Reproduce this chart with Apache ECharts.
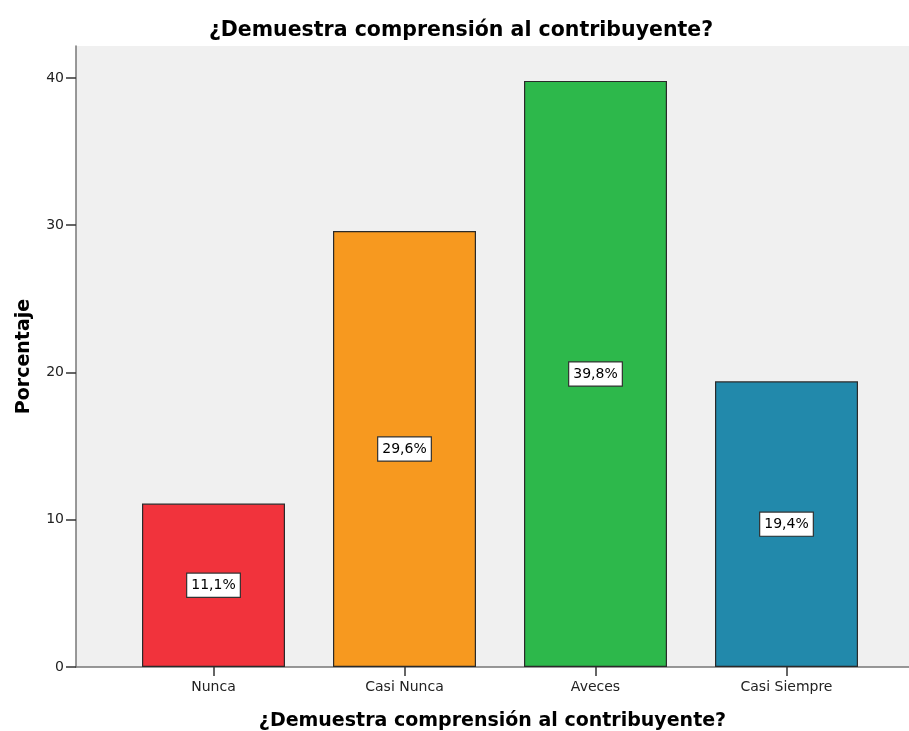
<!DOCTYPE html>
<html>
<head>
<meta charset="utf-8">
<script src="https://cdn.jsdelivr.net/npm/echarts@6/dist/echarts.min.js"></script>
<style>html,body{margin:0;padding:0;background:#fff;}#c{width:909px;height:731px;}</style>
</head>
<body>
<div id="c"></div>
<script>
var titleText = '¿Demuestra comprensión al contribuyente?';
var categories = ['Nunca', 'Casi Nunca', 'Aveces', 'Casi Siempre'];
var values = [11.1, 29.6, 39.8, 19.4];
var labels = ['11,1%', '29,6%', '39,8%', '19,4%'];
var barColors = ['#f1333c', '#f7991f', '#2db84b', '#2289ab'];
var yTicks = [0, 10, 20, 30, 40];

var chart = echarts.init(document.getElementById('c'));
var font = 'DejaVu Sans, Liberation Sans, sans-serif';
chart.setOption({
  animation: false,
  backgroundColor: '#ffffff',
  title: {
    text: titleText, left: 456, top: 15, textAlign: 'center',
    textStyle: { fontFamily: font, fontSize: 20.5, fontWeight: 'bold', color: '#000' }
  },
  grid: [
    { left: 76, right: 0, top: 46, bottom: 64, show: true, backgroundColor: '#f0f0f0', borderWidth: 0,
      containLabel: false, outerBoundsMode: 'none' },
    { left: 118, width: 764, top: 46, bottom: 64, containLabel: false, outerBoundsMode: 'none' }
  ],
  xAxis: [
    { type: 'value', gridIndex: 0, min: 0, max: 1, axisLine: { show: true, lineStyle: { color: '#777', width: 1.5 } },
      axisTick: { show: false }, axisLabel: { show: false }, splitLine: { show: false },
      name: titleText, nameLocation: 'middle', nameGap: 45,
      nameTextStyle: { fontFamily: font, fontSize: 19, fontWeight: 'bold', color: '#000' } },
    { type: 'category', gridIndex: 1, data: categories, axisLine: { show: false },
      axisTick: { show: true, alignWithLabel: true, length: 9, lineStyle: { color: '#333', width: 1.5 } },
      axisLabel: { fontFamily: font, fontSize: 14, color: '#222', margin: 13 } }
  ],
  yAxis: [
    { type: 'value', gridIndex: 0, min: 0, max: 42.17,
      axisLine: { show: true, lineStyle: { color: '#777', width: 1.5 } },
      axisTick: { show: true, length: 10, lineStyle: { color: '#333', width: 1.5 }, customValues: yTicks },
      axisLabel: { fontFamily: font, fontSize: 14, color: '#222', margin: 12, customValues: yTicks },
      splitLine: { show: false },
      name: 'Porcentaje', nameLocation: 'middle', nameGap: 42,
      nameTextStyle: { fontFamily: font, fontSize: 19, fontWeight: 'bold', color: '#000' } },
    { type: 'value', gridIndex: 1, min: 0, max: 42.17, show: false }
  ],
  series: [{
    type: 'bar', xAxisIndex: 1, yAxisIndex: 1, barWidth: 143,
    data: values.map(function (v, i) {
      return { value: v, itemStyle: { color: barColors[i], borderColor: '#2a2a2a', borderWidth: 1.2 } };
    }),
    label: {
      show: true, position: 'inside',
      formatter: function (p) { return labels[p.dataIndex]; },
      fontFamily: font, fontSize: 14, color: '#000',
      backgroundColor: '#fff', borderColor: '#333', borderWidth: 1.2, padding: [5, 4, 4, 4]
    }
  }]
});
</script>
</body>
</html>
